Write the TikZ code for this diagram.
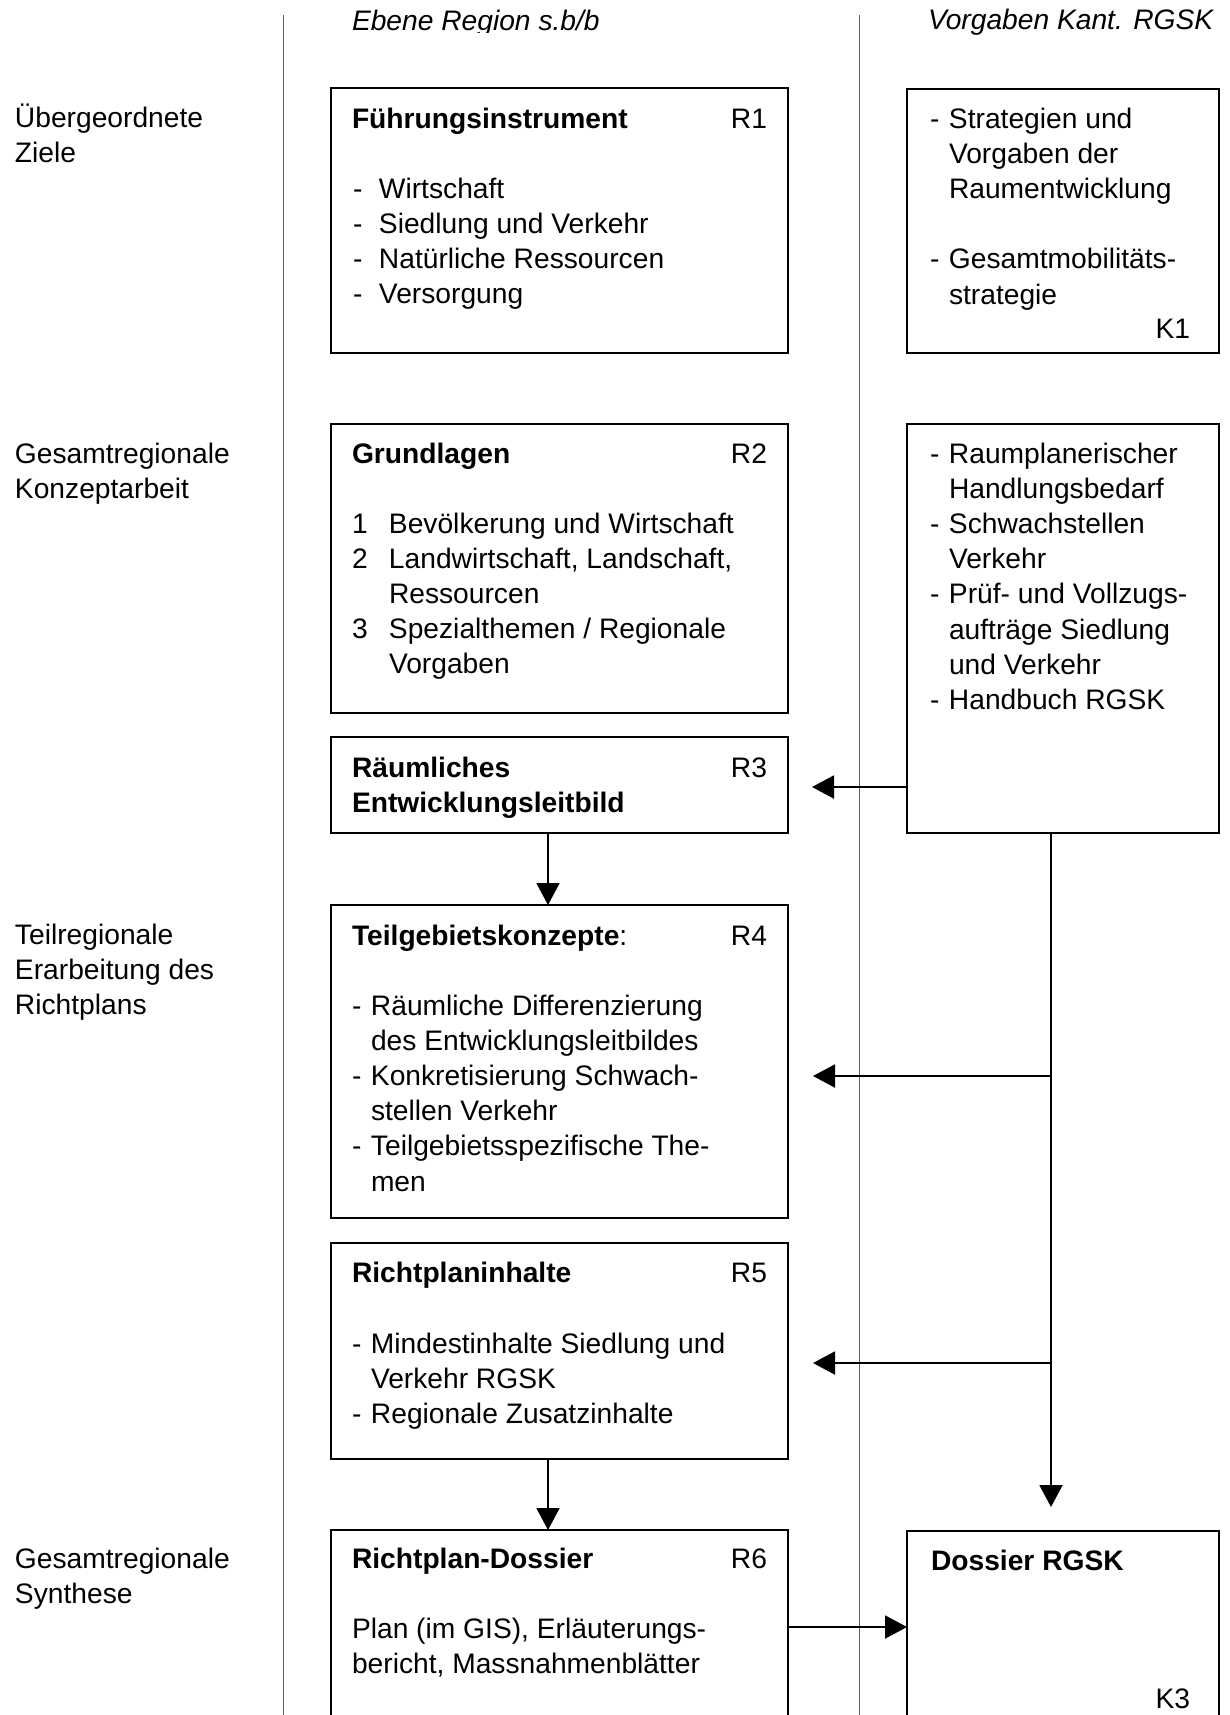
\documentclass[tikz,border=0pt]{standalone}
\usepackage{fontspec}
\setmainfont{Liberation Sans}
\usetikzlibrary{arrows.meta}
\newcommand{\blk}[1]{\parbox[t]{300pt}{\raggedright\fontsize{14.1pt}{17.6pt}\selectfont #1}}
\newcommand{\dsh}[2]{\makebox[#1][l]{#2}}
\begin{document}
\begin{tikzpicture}[x=0.5pt,y=-0.5pt,
  box/.style={draw=black, line width=1pt, rectangle, inner sep=0pt, outer sep=0pt},
  txt/.style={anchor=base west, inner sep=0pt, outer sep=0pt, font=\fontsize{14.1pt}{17.6pt}\selectfont},
  lbl/.style={anchor=base east, inner sep=0pt, outer sep=0pt, font=\fontsize{14.1pt}{17.6pt}\selectfont},
  sep/.style={draw=black!60, line width=0.6pt},
  arr/.style={draw=black, line width=1pt, -{Triangle[length=11pt,width=11.5pt]}}]
\clip (0,0) rectangle (1230,1715);
\fill[white] (0,0) rectangle (1230,1715);

% separators
\coordinate (s1t) at (283.5,15);
\coordinate (s1b) at (283.5,1715);
\coordinate (s2t) at (859.5,15);
\coordinate (s2b) at (859.5,1715);
\draw[sep] (s1t) -- (s1b);
\draw[sep] (s2t) -- (s2b);

% headers
\begin{scope}
\clip (0,0) rectangle (1230,32.5);
\node[txt, font=\fontsize{14.1pt}{17.6pt}\selectfont\itshape] (h1) at (352,30.5) {Ebene Region s.b/b};
\end{scope}
\node[txt, font=\fontsize{14.1pt}{17.6pt}\selectfont\itshape] (h2) at (928,29) {Vorgaben Kant. RGSK};

% left labels
\node[txt] (l1) at (15,127) {\blk{Übergeordnete\\Ziele}};
\node[txt] (l2) at (15,463) {\blk{Gesamtregionale\\Konzeptarbeit}};
\node[txt] (l3) at (15,944) {\blk{Teilregionale\\Erarbeitung des\\Richtplans}};
\node[txt] (l4) at (15,1568) {\blk{Gesamtregionale\\Synthese}};

% boxes
\node[box, minimum width=228.5pt, minimum height=132.5pt] (R1) at (559.5,220.5) {};
\node[box, minimum width=156pt, minimum height=132pt] (K1) at (1063,221) {};
\node[box, minimum width=228.5pt, minimum height=144.5pt] (R2) at (559.5,568.5) {};
\node[box, minimum width=156pt, minimum height=204.5pt] (K2) at (1063,628.5) {};
\node[box, minimum width=228.5pt, minimum height=48pt] (R3) at (559.5,785) {};
\node[box, minimum width=228.5pt, minimum height=156.5pt] (R4) at (559.5,1061.5) {};
\node[box, minimum width=228.5pt, minimum height=108pt] (R5) at (559.5,1351) {};
\node[box, minimum width=228.5pt, minimum height=115pt] (R6) at (559.5,1645) {};
\node[box, minimum width=156pt, minimum height=114.5pt] (K3) at (1063,1645.5) {};

% R1
\node[txt] (r1t) at (352,128) {\textbf{Führungsinstrument}};
\node[lbl] (r1l) at (767,128) {R1};
\node[txt] (r1i) at (353,198) {\blk{\dsh{13pt}{-}Wirtschaft\\\dsh{13pt}{-}Siedlung und Verkehr\\\dsh{13pt}{-}Natürliche Ressourcen\\\dsh{13pt}{-}Versorgung}};

% K1
\node[txt] (k1i) at (930,128) {\blk{\dsh{9.5pt}{-}Strategien und\\\hspace*{9.5pt}Vorgaben der\\\hspace*{9.5pt}Raumentwicklung\\\mbox{}\\\dsh{9.5pt}{-}Gesamtmobilitäts-\\\hspace*{9.5pt}strategie}};
\node[lbl] (k1l) at (1190,338) {K1};

% R2
\node[txt] (r2t) at (352,463) {\textbf{Grundlagen}};
\node[lbl] (r2l) at (767,463) {R2};
\node[txt] (r2i) at (352,533) {\blk{\dsh{18.5pt}{1}Bevölkerung und Wirtschaft\\\dsh{18.5pt}{2}Landwirtschaft, Landschaft,\\\hspace*{18.5pt}Ressourcen\\\dsh{18.5pt}{3}Spezialthemen / Regionale\\\hspace*{18.5pt}Vorgaben}};

% K2
\node[txt] (k2i) at (930,463) {\blk{\dsh{9.5pt}{-}Raumplanerischer\\\hspace*{9.5pt}Handlungsbedarf\\\dsh{9.5pt}{-}Schwachstellen\\\hspace*{9.5pt}Verkehr\\\dsh{9.5pt}{-}Prüf- und Vollzugs-\\\hspace*{9.5pt}aufträge Siedlung\\\hspace*{9.5pt}und Verkehr\\\dsh{9.5pt}{-}Handbuch RGSK}};

% R3
\node[txt] (r3t) at (352,777) {\blk{\textbf{Räumliches}\\\textbf{Entwicklungsleitbild}}};
\node[lbl] (r3l) at (767,777) {R3};

% R4
\node[txt] (r4t) at (352,945) {\textbf{Teilgebietskonzepte}:};
\node[lbl] (r4l) at (767,945) {R4};
\node[txt] (r4i) at (352,1015) {\blk{\dsh{9.5pt}{-}Räumliche Differenzierung\\\hspace*{9.5pt}des Entwicklungsleitbildes\\\dsh{9.5pt}{-}Konkretisierung Schwach-\\\hspace*{9.5pt}stellen Verkehr\\\dsh{9.5pt}{-}Teilgebietsspezifische The-\\\hspace*{9.5pt}men}};

% R5
\node[txt] (r5t) at (352,1282) {\textbf{Richtplaninhalte}};
\node[lbl] (r5l) at (767,1282) {R5};
\node[txt] (r5i) at (352,1353) {\blk{\dsh{9.5pt}{-}Mindestinhalte Siedlung und\\\hspace*{9.5pt}Verkehr RGSK\\\dsh{9.5pt}{-}Regionale Zusatzinhalte}};

% R6
\node[txt] (r6t) at (352,1568) {\textbf{Richtplan-Dossier}};
\node[lbl] (r6l) at (767,1568) {R6};
\node[txt] (r6i) at (352,1638) {\blk{Plan (im GIS), Erläuterungs-\\bericht, Massnahmenblätter}};

% K3
\node[txt] (k3t) at (931,1570) {\textbf{Dossier RGSK}};
\node[lbl] (k3l) at (1190,1708) {K3};

% connectors
\coordinate (c1) at (812,787);
\draw[arr] (K2.west |- c1) -- (c1);
\coordinate (x1) at (548,0);
\draw[arr] (R3.south -| x1) -- (R4.north -| x1);
\coordinate (t0) at (1051,0);
\coordinate (tend) at (1051,1507);
\draw[arr] (K2.south -| t0) -- (tend);
\coordinate (b1) at (813,1076);
\draw[arr] (t0 |- b1) -- (b1);
\coordinate (b2) at (813,1363);
\draw[arr] (t0 |- b2) -- (b2);
\draw[arr] (R5.south -| x1) -- (R6.north -| x1);
\coordinate (y6) at (0,1627);
\draw[arr] (R6.east |- y6) -- (K3.west |- y6);
\end{tikzpicture}
\end{document}
